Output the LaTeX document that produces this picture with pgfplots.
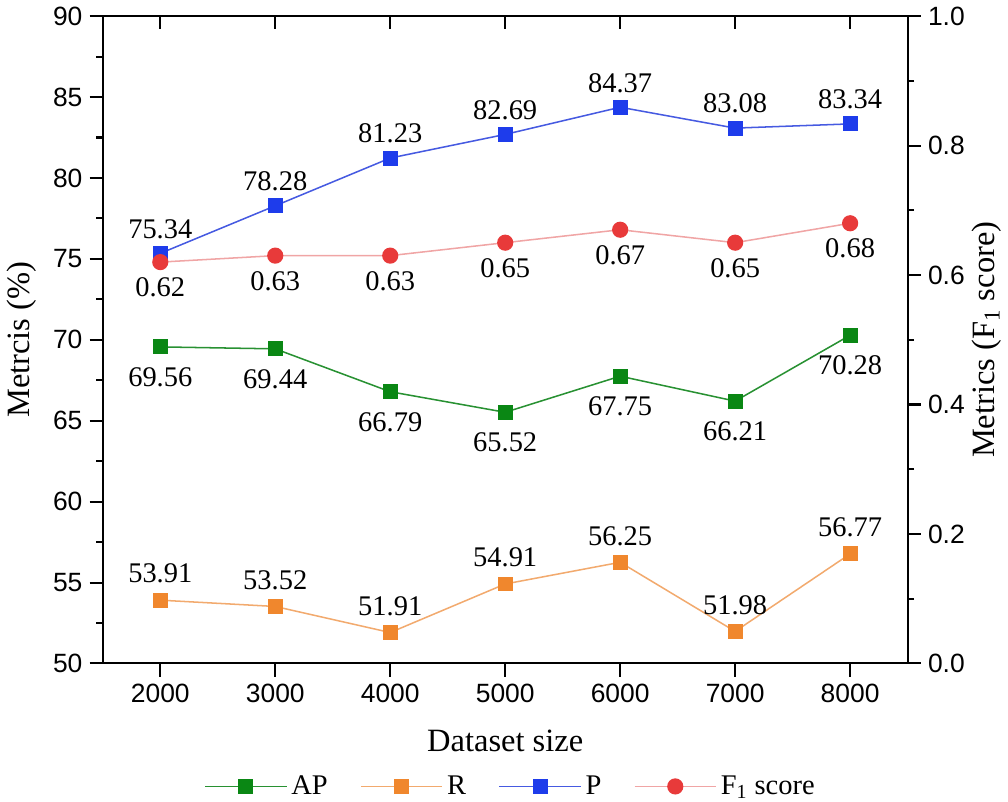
\documentclass[border=0pt]{standalone}
\usepackage{fontspec}
\setmainfont{Liberation Serif}
\setsansfont{Liberation Sans}
\usepackage{pgfplots}
\pgfplotsset{compat=1.18}

\definecolor{apg}{RGB}{10,135,20}
\definecolor{apl}{RGB}{40,145,50}
\definecolor{ro}{RGB}{240,135,45}
\definecolor{rl}{RGB}{242,170,110}
\definecolor{pb}{RGB}{30,60,235}
\definecolor{pl}{RGB}{70,90,225}
\definecolor{fr}{RGB}{232,58,58}
\definecolor{fl}{RGB}{240,165,165}

\pgfplotsset{
  base/.style={scale only axis, width=396pt, height=318.5pt,
    xmin=1500, xmax=8500, clip=false,
    /pgf/number format/assume math mode=true,
    /pgf/number format/1000 sep={},
    scaled ticks=false,
    tick label style={font=\fontsize{13}{15}\sffamily},
    label style={font=\fontsize{16}{19}\selectfont},
    axis line style={-, line width=1pt},
    major tick length=6.5pt, minor tick length=3.25pt,
    every tick/.style={black, line width=1pt}},
  lbl/.style={nodes near coords, nodes near coords align={center},
    nodes near coords style={font=\fontsize{14}{16}\selectfont, text=black, anchor=center,
      yshift=#1, /pgf/number format/fixed, /pgf/number format/precision=2,
      /pgf/number format/fixed zerofill}},
  sq/.style={line width=0.75pt, #1, mark=square*, mark size=3.3pt},
}

\begin{document}
\begin{tikzpicture}
% left axis: AP, R, P
\begin{axis}[base, ymin=50, ymax=90, ytick={50,55,...,90}, minor y tick num=1,
  xtick={2000,3000,...,8000}, xtick pos=bottom, ytick pos=left, tick align=outside,
  xlabel={Dataset size}, ylabel={Metrcis (\%)},
  xlabel style={at={(axis description cs:0.5,-0.119)}, anchor=center},
  ylabel style={at={(axis description cs:-0.101,0.5)}, anchor=center}]
\addplot[sq=apl, mark options={draw=apg, fill=apg}, lbl=-15pt] coordinates {
  (2000,69.56) (3000,69.44) (4000,66.79) (5000,65.52) (6000,67.75) (7000,66.21) (8000,70.28)};
\addplot[sq=rl, mark options={draw=ro, fill=ro}, lbl=13pt] coordinates {
  (2000,53.91) (3000,53.52) (4000,51.91) (5000,54.91) (6000,56.25) (7000,51.98) (8000,56.77)};
\addplot[sq=pl, mark options={draw=pb, fill=pb}, lbl=12pt] coordinates {
  (2000,75.34) (3000,78.28) (4000,81.23) (5000,82.69) (6000,84.37) (7000,83.08) (8000,83.34)};
\end{axis}

% top ticks pointing in
\begin{axis}[base, ymin=0, ymax=1, hide y axis, xtick={2000,3000,...,8000},
  xtick pos=top, xticklabels={}, tick align=inside]
\end{axis}

% right axis: F1 score
\begin{axis}[base, ymin=0, ymax=1, ytick={0,0.2,...,1}, minor y tick num=1,
  hide x axis, ytick pos=right, tick align=outside,
  yticklabel style={/pgf/number format/fixed, /pgf/number format/precision=1,
    /pgf/number format/fixed zerofill},
  ylabel={Metrics (F\textsubscript{1} score)},
  ylabel style={at={(axis description cs:1.098,0.5)}, anchor=center},
  legend columns=4,
  legend image code/.code={\draw[mark repeat=2, mark phase=2, #1]
    plot coordinates {(0pt,0pt) (20pt,0pt) (40pt,0pt)};},
  legend style={at={(0.508,-0.19)}, anchor=center, draw=none,
    font=\fontsize{14}{16}\selectfont, inner sep=0pt,
    nodes={inner xsep=2pt},
    /tikz/every even column/.append style={column sep=14pt},
    /tikz/every odd column/.append style={column sep=0pt}}]
\addlegendimage{sq=apl, mark options={draw=apg, fill=apg}}
\addlegendentry{AP}
\addlegendimage{sq=rl, mark options={draw=ro, fill=ro}}
\addlegendentry{R}
\addlegendimage{sq=pl, mark options={draw=pb, fill=pb}}
\addlegendentry{P}
\addplot[line width=0.75pt, fl, mark=*, mark size=3.6pt, mark options={draw=fr, fill=fr},
  lbl=-12.5pt] coordinates {
  (2000,0.62) (3000,0.63) (4000,0.63) (5000,0.65) (6000,0.67) (7000,0.65) (8000,0.68)};
\addlegendentry{F\textsubscript{1} score}
\end{axis}
\end{tikzpicture}
\end{document}
